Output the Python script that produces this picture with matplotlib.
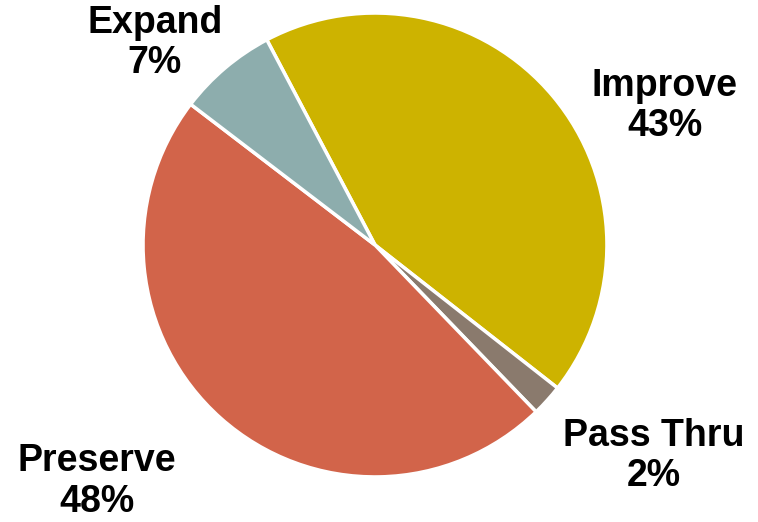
import numpy as np
import matplotlib.pyplot as plt

plt.rcParams['font.family'] = ['Liberation Sans', 'DejaVu Sans']

categories = ['Improve', 'Pass Thru', 'Preserve', 'Expand']
shares = [43.3, 2.2, 47.6, 6.9]
colors = ['#CDB300', '#8A7A6D', '#D2644A', '#8DADAD']

# label block centres, in axes data units (pie radius = 1)
label_pos = [(1.25, 0.60), (1.20, -0.91), (-1.20, -1.02), (-0.95, 0.87)]

fig = plt.figure(figsize=(7.58, 5.22), dpi=100)
ax = fig.add_axes([0.1887, 0.0862, 0.612, 0.889])

wedges, _ = ax.pie(shares, colors=colors, startangle=117.8, counterclock=False,
                   radius=1.0, wedgeprops=dict(edgecolor='white', linewidth=2.5))

for name, val, (x, y) in zip(categories, shares, label_pos):
    ax.text(x, y, f'{name}\n{val:.0f}%', ha='center', va='center', fontsize=27,
            fontweight='bold', linespacing=1.15, color='black')

ax.set_xlim(-1, 1)
ax.set_ylim(-1, 1)
ax.set_aspect('equal')
ax.axis('off')

fig.savefig('out.png', dpi=100)
